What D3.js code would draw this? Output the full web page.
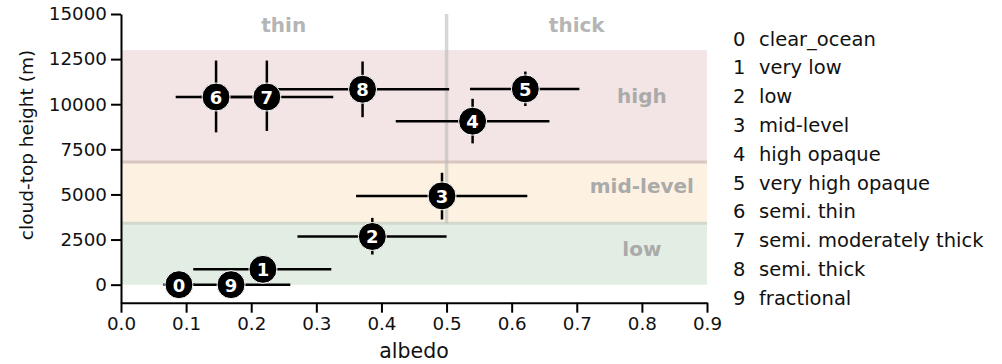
<!DOCTYPE html>
<html>
<head>
<meta charset="utf-8">
<script src="https://cdn.jsdelivr.net/npm/d3@7"></script>
<style>
  body { margin: 0; background: #fff; }
  svg { font-family: "DejaVu Sans", sans-serif; }
</style>
</head>
<body>
<div id="plot"></div>
<script>
// cloud classes
var classIds = [0, 1, 2, 3, 4, 5, 6, 7, 8, 9];
var classNames = ["clear_ocean", "very low", "low", "mid-level", "high opaque",
  "very high opaque", "semi. thin", "semi. moderately thick", "semi. thick", "fractional"];

// centre values and error ranges
var albedo   = [0.089, 0.218, 0.386, 0.493, 0.540, 0.621, 0.146, 0.224, 0.371, 0.169];
var albedoLo = [0.065, 0.111, 0.271, 0.361, 0.422, 0.536, 0.084, 0.122, 0.238, 0.078];
var albedoHi = [0.113, 0.323, 0.500, 0.624, 0.658, 0.704, 0.208, 0.326, 0.504, 0.260];
var height   = [0, 850, 2670, 4920, 9060, 10850, 10400, 10400, 10830, 0];
var heightLo = [0, 850, 1670, 3610, 7830, 9900, 8440, 8520, 9280, 0];
var heightHi = [0, 850, 3700, 6200, 10300, 11810, 12420, 12420, 12370, 0];

// height bands
var bandNames = ["low", "mid-level", "high"];
var bandLo = [0, 3400, 6800];
var bandHi = [3400, 6800, 13000];
var bandLabelY = [2000, 5450, 10450];

// ticks
var xTicks = [0, 0.1, 0.2, 0.3, 0.4, 0.5, 0.6, 0.7, 0.8, 0.9];
var yTicks = [0, 2500, 5000, 7500, 10000, 12500, 15000];

function init() {
  var w = 1002, h = 364;
  var left = 121, right = 707, top = 14, bottom = 302.7;
  var tickFs = 18.3;

  var svg = d3.select("#plot").append("svg")
    .attr("width", w).attr("height", h);

  var xScale = d3.scaleLinear().domain([0, 0.9]).range([left, right]);
  var yScale = d3.scaleLinear().domain([-1000, 15000]).range([bottom, top]);

  // band colours
  var bandFill = ["#e2ede3", "#fdf2e2", "#f3e5e5"];

  svg.selectAll("rect.band")
    .data(bandNames)
    .enter().append("rect")
    .attr("class", "band")
    .attr("x", xScale(0))
    .attr("width", xScale(0.9) - xScale(0))
    .attr("y", function(d, i) { return yScale(bandHi[i]); })
    .attr("height", function(d, i) { return yScale(bandLo[i]) - yScale(bandHi[i]); })
    .style("fill", function(d, i) { return bandFill[i]; });

  // darker edges where the bands meet
  svg.selectAll("line.edge")
    .data([3400, 6800])
    .enter().append("line")
    .attr("x1", xScale(0)).attr("x2", xScale(0.9))
    .attr("y1", function(d) { return yScale(d); })
    .attr("y2", function(d) { return yScale(d); })
    .style("stroke", function(d, i) { return i === 0 ? "#d2d9cc" : "#d9c6bf"; })
    .style("stroke-width", 3);

  // thin / thick divider
  svg.append("line")
    .attr("x1", xScale(0.5)).attr("x2", xScale(0.5))
    .attr("y1", yScale(15000)).attr("y2", yScale(3400))
    .style("stroke", "#bbbbbb")
    .style("stroke-opacity", 0.6)
    .style("stroke-width", 3.5);

  // labels
  svg.selectAll("text.bandlabel")
    .data(bandNames)
    .enter().append("text")
    .attr("x", xScale(0.8))
    .attr("y", function(d, i) { return yScale(bandLabelY[i]); })
    .attr("text-anchor", "middle")
    .attr("dominant-baseline", "central")
    .style("font-size", "20px")
    .style("font-weight", "bold")
    .style("fill", "#aaaaaa")
    .text(function(d) { return d; });

  svg.selectAll("text.thick")
    .data([["thin", 0.25], ["thick", 0.7]])
    .enter().append("text")
    .attr("x", function(d) { return xScale(d[1]); })
    .attr("y", yScale(14400))
    .attr("text-anchor", "middle")
    .attr("dominant-baseline", "central")
    .style("font-size", "20px")
    .style("font-weight", "bold")
    .style("fill", "#b5b5b5")
    .text(function(d) { return d[0]; });

  // error bars
  var err = svg.append("g");
  err.selectAll("line.xerr")
    .data(classIds)
    .enter().append("line")
    .attr("x1", function(d) { return xScale(albedoLo[d]); })
    .attr("x2", function(d) { return xScale(albedoHi[d]); })
    .attr("y1", function(d) { return yScale(height[d]); })
    .attr("y2", function(d) { return yScale(height[d]); })
    .style("stroke", "#000").style("stroke-width", 2.5);

  err.selectAll("line.yerr")
    .data(classIds.filter(function(d) { return heightHi[d] > heightLo[d]; }))
    .enter().append("line")
    .attr("x1", function(d) { return xScale(albedo[d]); })
    .attr("x2", function(d) { return xScale(albedo[d]); })
    .attr("y1", function(d) { return yScale(heightLo[d]); })
    .attr("y2", function(d) { return yScale(heightHi[d]); })
    .style("stroke", "#000").style("stroke-width", 2.5);

  // markers
  var pts = svg.selectAll("g.pt")
    .data(classIds)
    .enter().append("g")
    .attr("transform", function(d) {
      return "translate(" + xScale(albedo[d]) + "," + yScale(height[d]) + ")";
    });

  pts.append("circle")
    .attr("r", 14)
    .style("fill", "#000")
    .style("stroke", "#fff")
    .style("stroke-width", 1);

  pts.append("text")
    .attr("text-anchor", "middle")
    .attr("dominant-baseline", "central")
    .attr("y", 0.5)
    .style("font-size", "18px")
    .style("font-weight", "bold")
    .style("fill", "#fff")
    .text(function(d) { return d; });

  // axes
  var xAxis = d3.axisBottom(xScale).tickValues(xTicks)
    .tickFormat(d3.format(".1f")).tickSize(10).tickSizeOuter(0).tickPadding(4);
  var yAxis = d3.axisLeft(yScale).tickValues(yTicks)
    .tickFormat(d3.format("d")).tickSize(10).tickSizeOuter(0).tickPadding(4);

  var gx = svg.append("g")
    .attr("transform", "translate(0," + bottom + ")")
    .call(xAxis);
  var gy = svg.append("g")
    .attr("transform", "translate(" + left + ",0)")
    .call(yAxis);

  [gx, gy].forEach(function(g) {
    g.select(".domain").style("stroke", "#000").style("stroke-width", 2);
    g.selectAll(".tick line").style("stroke", "#000").style("stroke-width", 2);
    g.selectAll(".tick text")
      .style("font-family", "DejaVu Sans")
      .style("font-size", tickFs + "px")
      .style("fill", "#111");
  });

  // axis titles
  svg.append("text")
    .attr("x", (left + right) / 2)
    .attr("y", 358)
    .attr("text-anchor", "middle")
    .style("font-size", "20.5px")
    .style("fill", "#111")
    .text("albedo");

  svg.append("text")
    .attr("transform", "translate(33,145) rotate(-90)")
    .attr("text-anchor", "middle")
    .style("font-size", "18.5px")
    .style("fill", "#111")
    .text("cloud-top height (m)");

  // class key
  var key = svg.selectAll("g.key")
    .data(classIds)
    .enter().append("g")
    .attr("transform", function(d, i) { return "translate(733," + (39 + i * 28.8) + ")"; });

  key.append("text")
    .attr("dominant-baseline", "central")
    .style("font-size", "19.5px")
    .style("fill", "#111")
    .text(function(d) { return d; });

  key.append("text")
    .attr("x", 26)
    .attr("dominant-baseline", "central")
    .style("font-size", "19.5px")
    .style("fill", "#111")
    .text(function(d) { return classNames[d]; });
}

window.onload = init;
</script>
</body>
</html>
